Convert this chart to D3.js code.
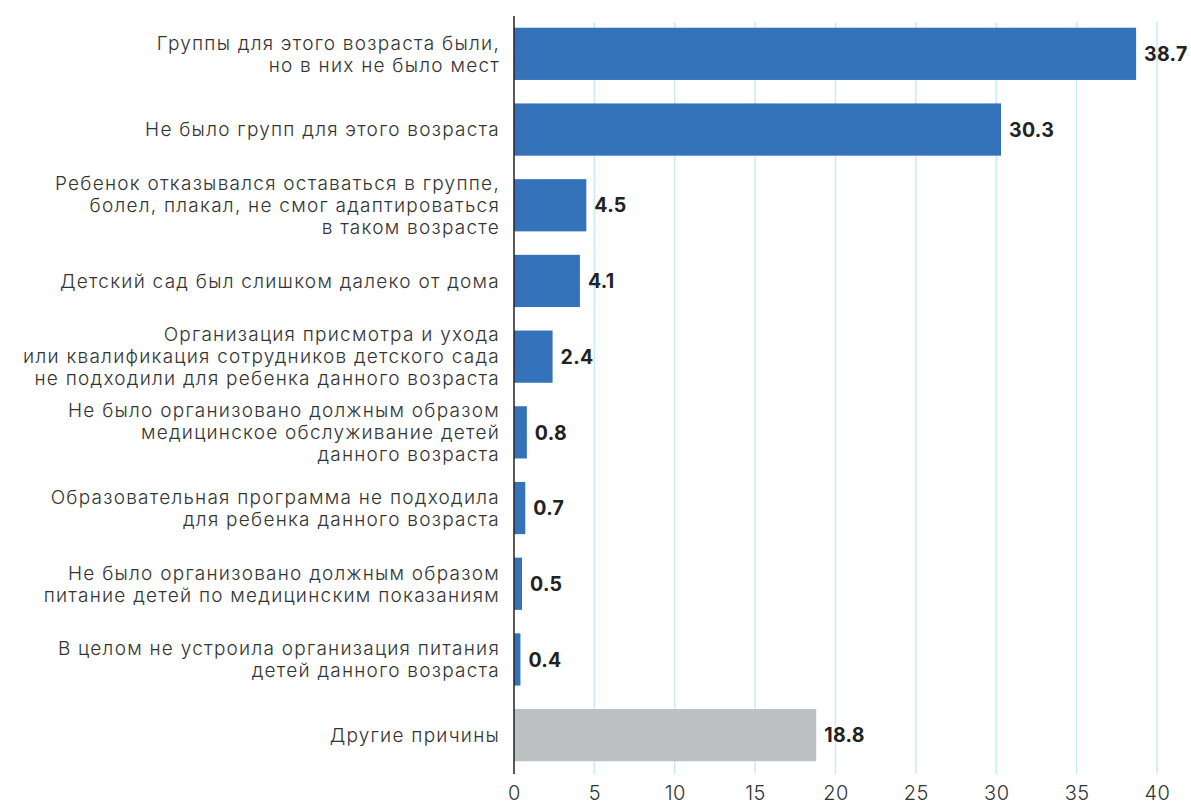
<!DOCTYPE html>
<html>
<head>
<meta charset="utf-8">
<script src="https://cdn.jsdelivr.net/npm/d3@7"></script>
<style>
  body { margin: 0; background: #fff; }
  svg { font-family: Inter, "Noto Sans", sans-serif; }
</style>
</head>
<body>
<div id="chart"></div>
<script>
var categories = [
  ["Группы для этого возраста были,", "но в них не было мест"],
  ["Не было групп для этого возраста"],
  ["Ребенок отказывался оставаться в группе,", "болел, плакал, не смог адаптироваться", "в таком возрасте"],
  ["Детский сад был слишком далеко от дома"],
  ["Организация присмотра и ухода", "или квалификация сотрудников детского сада", "не подходили для ребенка данного возраста"],
  ["Не было организовано должным образом", "медицинское обслуживание детей", "данного возраста"],
  ["Образовательная программа не подходила", "для ребенка данного возраста"],
  ["Не было организовано должным образом", "питание детей по медицинским показаниям"],
  ["В целом не устроила организация питания", "детей данного возраста"],
  ["Другие причины"]
];
var values = [38.7, 30.3, 4.5, 4.1, 2.4, 0.8, 0.7, 0.5, 0.4, 18.8];
var isOther = [false, false, false, false, false, false, false, false, false, true];
var xTicks = [0, 5, 10, 15, 20, 25, 30, 35, 40];

var W = 1191, H = 804;
var m = [16, 34, 31, 514]; // top right bottom left

var svg = d3.select("#chart").append("svg")
  .attr("width", W)
  .attr("height", H);

var x = d3.scaleLinear()
  .domain([0, 40])
  .range([m[3], W - m[1]]);

var y = d3.scaleBand()
  .domain(d3.range(values.length))
  .range([m[0], H - m[2]])
  .paddingInner(0.31)
  .paddingOuter(0.155);

// gridlines
svg.append("g")
  .selectAll("line")
  .data(xTicks.slice(1))
  .enter().append("line")
  .attr("x1", d => x(d)).attr("x2", d => x(d))
  .attr("y1", 22).attr("y2", H - m[2] + 1)
  .attr("stroke", "#c9ebf8")
  .attr("stroke-width", 1.5);

// bars
svg.append("g")
  .selectAll("rect")
  .data(values)
  .enter().append("rect")
  .attr("x", x(0))
  .attr("y", (d, i) => y(i))
  .attr("width", d => x(d) - x(0))
  .attr("height", y.bandwidth())
  .attr("fill", (d, i) => isOther[i] ? "#bdc1c4" : "#3473ba");

// value labels
svg.append("g")
  .selectAll("text")
  .data(values)
  .enter().append("text")
  .attr("x", d => x(d) + 8)
  .attr("y", (d, i) => y(i) + y.bandwidth() / 2)
  .attr("dy", "0.37em")
  .attr("font-size", 19.5)
  .attr("font-weight", 700)
  .attr("letter-spacing", 0.3)
  .attr("fill", "#222")
  .text(d => d.toFixed(1));

// category labels
var lineH = 22;
svg.append("g")
  .selectAll("text")
  .data(categories)
  .enter().append("text")
  .attr("text-anchor", "end")
  .attr("font-size", 19)
  .attr("font-weight", 300)
  .attr("letter-spacing", 1.25)
  .attr("fill", "#333")
  .each(function(lines, i) {
    var cy = y(i) + y.bandwidth() / 2;
    var t = d3.select(this);
    lines.forEach(function(l, k) {
      t.append("tspan")
        .attr("x", m[3] - 14)
        .attr("y", cy + (k - (lines.length - 1) / 2) * lineH)
        .attr("dy", "0.36em")
        .text(l);
    });
  });

// axis line
svg.append("line")
  .attr("x1", x(0)).attr("x2", x(0))
  .attr("y1", 16).attr("y2", H - m[2] + 1)
  .attr("stroke", "#222")
  .attr("stroke-width", 1.5);

// x tick labels
var xAxis = d3.axisBottom(x)
  .tickValues(xTicks)
  .tickSize(0)
  .tickPadding(0);

var gX = svg.append("g")
  .attr("transform", "translate(0," + (H - 11) + ")")
  .call(xAxis);
gX.select(".domain").remove();
gX.selectAll("text")
  .attr("font-family", "Inter, 'Noto Sans', sans-serif")
  .attr("font-size", 20)
  .attr("font-weight", 300)
  .attr("letter-spacing", 0.5)
  .attr("fill", "#333")
  .attr("dy", "0.35em");
</script>
</body>
</html>
